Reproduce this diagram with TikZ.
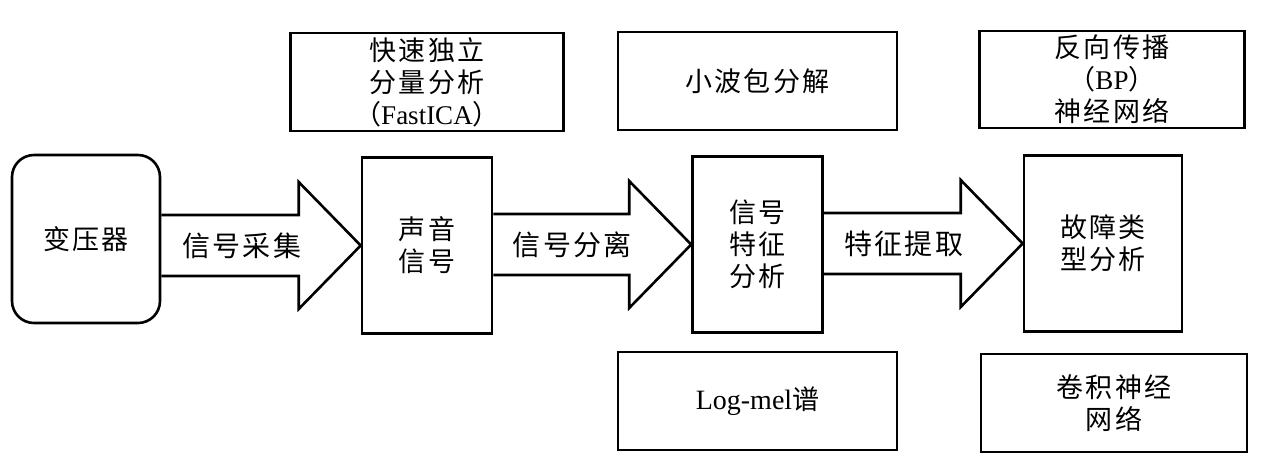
\documentclass[tikz,border=0pt]{standalone}
\usepackage{fontspec}
\setmainfont{Liberation Serif}
\newfontfamily\cjk[LetterSpace=8]{Noto Sans CJK SC}
\usetikzlibrary{positioning,calc}

\begin{document}
\begin{tikzpicture}[%
	x=1pt, y=-1pt,
	every node/.style = {align=center, inner sep=0pt, font=\cjk\fontsize{27}{32}\selectfont},
	box/.style = {shape=rectangle, draw, line width=2.6pt},
	midbox/.style = {box, minimum width=130pt, minimum height=176pt},
	sidebox/.style = {box, minimum width=273pt, minimum height=98pt},
	bigarrow/.style = {draw, line width=2.6pt, line join=miter},
	arrowlabel/.style = {font=\cjk\fontsize{28}{32}\selectfont},
	node distance=24pt
	]
  \useasboundingbox (0,0) rectangle (1267,475);
  % main chain
  \node [box, rounded corners=22pt, minimum width=148pt, minimum height=168pt] (xfmr) at (86,239) {变压器};
  \node [midbox] (sound) at (427,245.5) {声音\\信号};
  \node [midbox] (feat) at (757.5,244.5) {信号\\特征\\分析};
  \node [midbox, minimum width=158pt] (fault) at (1103,243.5) {故障类\\型分析};
  % methods above and below
  \node [sidebox, above=of sound] (ica) {快速独立\\分量分析\\（{\rmfamily FastICA}）};
  \node [sidebox, minimum width=279pt, above=of feat] (wpd) {小波包分解};
  \node [sidebox, minimum width=265pt, minimum height=97pt, above=25pt of fault, xshift=9pt] (bp) {反向传播\\（{\rmfamily BP}）\\神经网络};
  \node [sidebox, minimum width=279pt, below=17pt of feat] (mel) {{\rmfamily\fontsize{28}{32}\selectfont Log-mel}谱};
  \node [sidebox, minimum width=266pt, below=20pt of fault, xshift=11pt] (cnn) {卷积神经\\网络};
  % block arrows
  \draw [bigarrow] ($(xfmr.east |- sound.west)+(0,-30.5)$) -- ($(sound.west)+(-62,-30.5)$) -- ++(0,-33)
    -- (sound.west) -- ($(sound.west)+(-62,63.5)$) -- ++(0,-33) -- ($(xfmr.east |- sound.west)+(0,30.5)$);
  \draw [bigarrow] ($(sound.east |- feat.west)+(0,-30.5)$) -- ($(feat.west)+(-62,-30.5)$) -- ++(0,-33)
    -- (feat.west) -- ($(feat.west)+(-62,63.5)$) -- ++(0,-33) -- ($(sound.east |- feat.west)+(0,30.5)$);
  \draw [bigarrow] ($(feat.east |- fault.west)+(0,-30.5)$) -- ($(fault.west)+(-62,-30.5)$) -- ++(0,-33)
    -- (fault.west) -- ($(fault.west)+(-62,63.5)$) -- ++(0,-33) -- ($(feat.east |- fault.west)+(0,30.5)$);
  \node [arrowlabel] (collect) at ($(sound.west)+(-119,0)$) {信号采集};
  \node [arrowlabel] (separate) at ($(feat.west)+(-119,0)$) {信号分离};
  \node [arrowlabel] (extract) at ($(fault.west)+(-119,0)$) {特征提取};
\end{tikzpicture}
\end{document}
